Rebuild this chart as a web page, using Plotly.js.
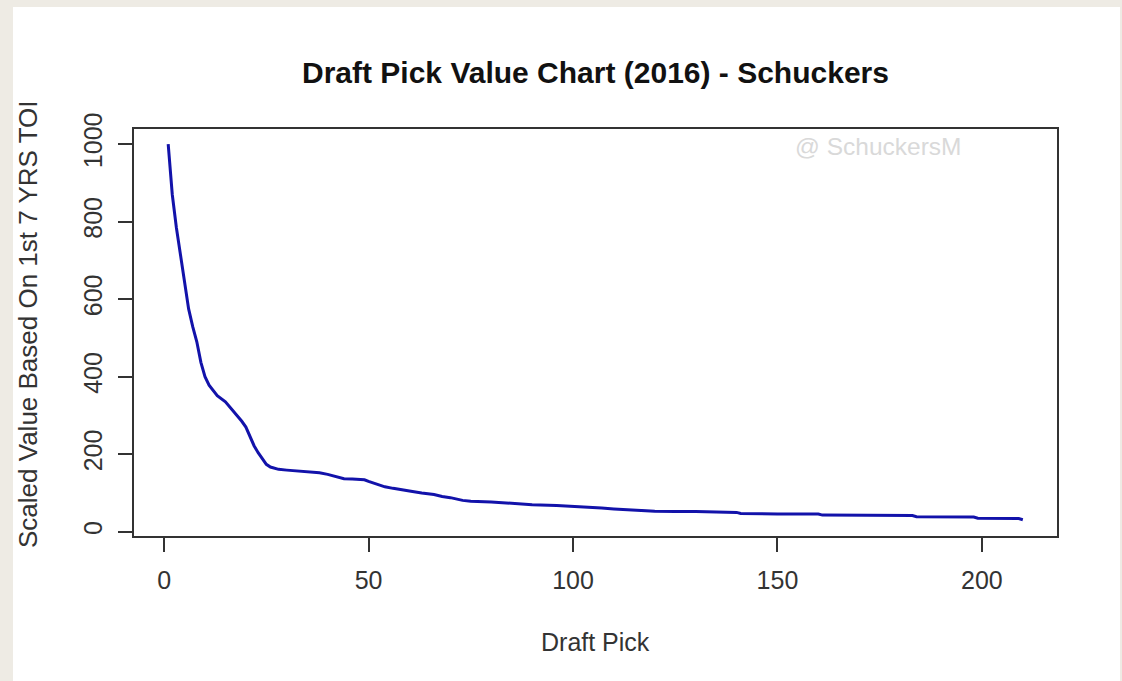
<!DOCTYPE html>
<html>
<head>
<meta charset="utf-8">
<script src="https://cdn.plot.ly/plotly-3.0.1.min.js"></script>
<style>
  html, body { margin: 0; padding: 0; background: #eeebe4; }
  #chart { width: 1122px; height: 681px; }
</style>
</head>
<body>
<div id="chart"></div>
<script>
const picks = [1,2,3,4,5,6,7,8,9,10,11,12,13,15,17,19,20,21,22,23,24,25,26,27,28,30,33,36,38,40,42,44,46,48,49,50,52,54,56,58,60,63,66,68,70,73,75,80,86,90,96,100,102,107,110,114,120,125,130,140,141,150,160,161,170,183,184,190,198,199,205,209,210];
const values = [1000,870,785,712,640,575,529,490,437,400,378,364,351,335,311,285,270,246,222,204,188,174,167,163,161,159,157,155,152,148,143,137,136,135,134,130,123,116,112,108,105,100,96,91,88,81,79,77,72,70,68,66,65,61,59,56,53,52,52,50,47,46,46,43,43,42,39,39,38,35,35,34,31];

const chartTitle = "Draft Pick Value Chart (2016) - Schuckers";
const xTitle = "Draft Pick";
const yTitle = "Scaled Value Based On 1st 7 YRS TOI";
const watermark = "@ SchuckersM";
const xTicks = [0, 50, 100, 150, 200];
const yTicks = [0, 200, 400, 600, 800, 1000];

const font = "Liberation Sans, Arial, sans-serif";
const axisCommon = {
  showgrid: false, zeroline: false,
  showline: true, linecolor: "#333", linewidth: 1.5, mirror: true,
  ticks: "outside", ticklen: 14, tickwidth: 1.5, tickcolor: "#333",
  tickfont: { family: font, size: 25, color: "#333" }
};

const trace = {
  x: picks, y: values, type: "scatter", mode: "lines",
  line: { color: "#1212aa", width: 3 },
  hoverinfo: "x+y"
};

const layout = {
  width: 1122, height: 681,
  margin: { l: 134, r: 65, t: 129, b: 145 },
  paper_bgcolor: "#eeebe4",
  plot_bgcolor: "#ffffff",
  showlegend: false,
  xaxis: Object.assign({}, axisCommon, {
    range: [-7.36, 218.36], tickvals: xTicks, ticktext: xTicks.map(String),
    ticklabelstandoff: 7
  }),
  yaxis: Object.assign({}, axisCommon, {
    range: [-10.9, 1038.9], tickvals: yTicks, ticktext: yTicks.map(String), tickangle: -90,
    ticklabelstandoff: 6
  }),
  shapes: [{
    type: "rect", xref: "paper", yref: "paper", layer: "below",
    x0: -0.1311, x1: 1.0683, y0: -0.37, y1: 1.2998,
    fillcolor: "#ffffff", line: { width: 0 }
  }],
  annotations: [
    { text: "<b>" + chartTitle + "</b>", xref: "paper", yref: "paper", x: 0.5, y: 1.140,
      xanchor: "center", yanchor: "middle", showarrow: false,
      font: { family: font, size: 30, color: "#111" } },
    { text: xTitle, xref: "paper", yref: "paper", x: 0.5, y: -0.2604,
      xanchor: "center", yanchor: "middle", showarrow: false,
      font: { family: font, size: 25, color: "#333" } },
    { text: yTitle, xref: "paper", yref: "paper", x: -0.1148, y: 0.521, textangle: -90,
      xanchor: "center", yanchor: "middle", showarrow: false,
      font: { family: font, size: 26, color: "#333" } },
    { text: watermark, xref: "paper", yref: "paper", x: 0.806, y: 0.9558,
      xanchor: "center", yanchor: "middle", showarrow: false,
      font: { family: font, size: 24.5, color: "#d9d9d9" } }
  ]
};

Plotly.newPlot("chart", [trace], layout, { displayModeBar: false, staticPlot: false });
</script>
</body>
</html>
